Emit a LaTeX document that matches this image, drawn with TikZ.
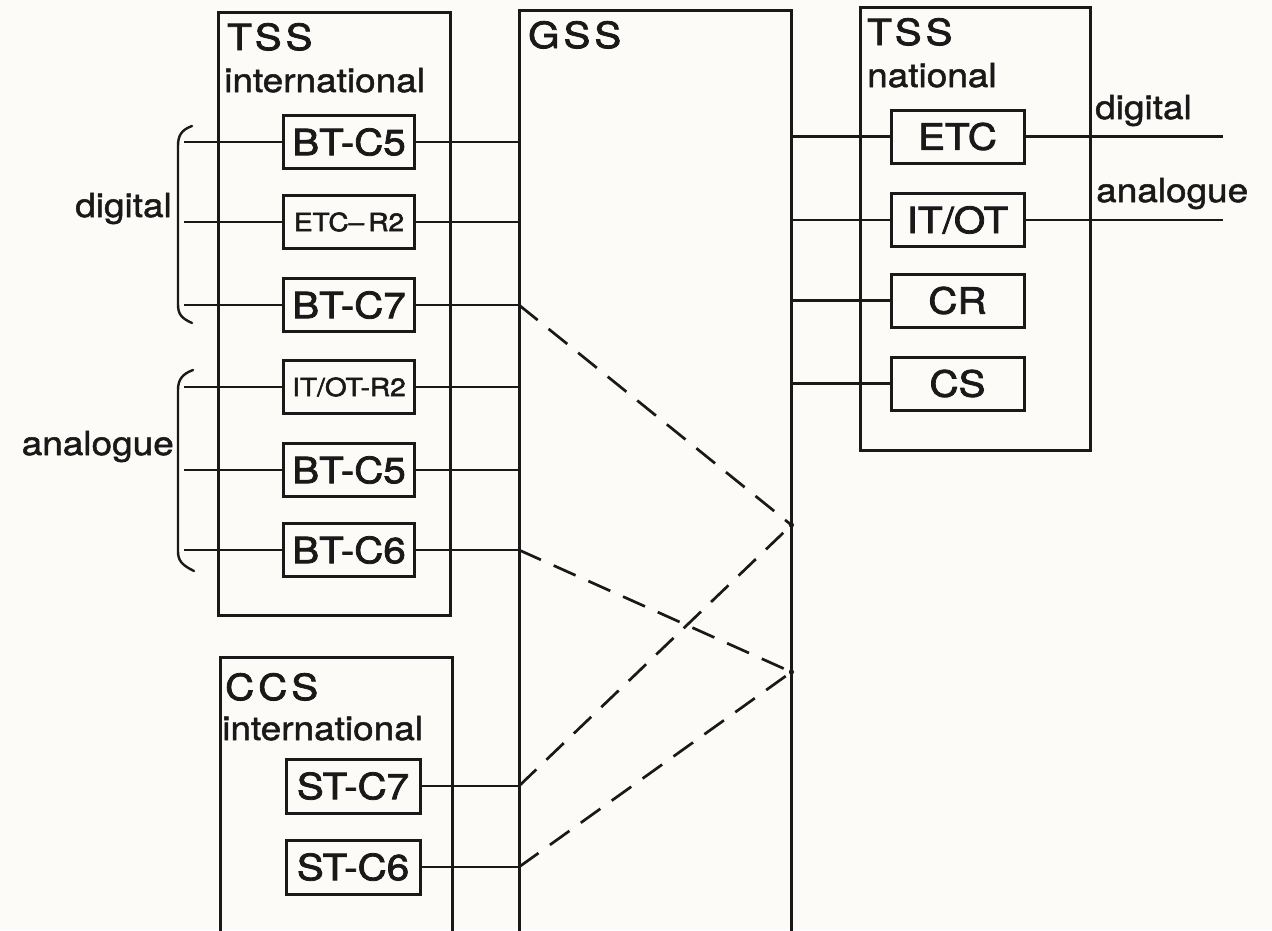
\documentclass[tikz,border=0pt]{standalone}
\usepackage{fontspec}
\setmainfont{TeX Gyre Heros}[FakeStretch=1.12,FakeBold=1.5]
\newfontfamily\boxfont{TeX Gyre Heros}[FakeStretch=1.12,FakeBold=2.2]
\newfontfamily\spacedfont{TeX Gyre Heros}[FakeStretch=1.12,LetterSpace=11,FakeBold=2.2]
\newcommand\setfs[1]{\fontsize{#1}{#1}\selectfont}
\definecolor{bgcol}{RGB}{252,251,248}
\definecolor{ink}{RGB}{25,25,25}
\begin{document}
\begin{tikzpicture}[x=1pt,y=-1pt,
  frame/.style={draw=ink, line width=3pt, inner sep=0pt},
  hidden/.style={draw=none, inner sep=0pt},
  unit/.style={draw=ink, line width=3pt, inner sep=0pt, minimum width=131, minimum height=53, font=\boxfont\setfs{36}, text=ink},
  smallunit/.style={unit, font=\boxfont\setfs{25}},
  title/.style={inner sep=0pt, anchor=base west, font=\spacedfont\setfs{36}, text=ink},
  label/.style={inner sep=0pt, font=\setfs{33}, text=ink},
  link/.style={draw=ink, line width=2.7pt},
  dlink/.style={draw=ink, line width=2.7pt, dash pattern=on 24pt off 14pt},
  brace/.style={draw=ink, line width=2.4pt, line cap=round}
]
\fill[bgcol] (0,0) rectangle (1272,930);
\useasboundingbox (0,0) rectangle (1272,930);

% containers
\node[frame, minimum width=232, minimum height=603] (tssI) at (334,313.5) {};
\node[frame, minimum width=230, minimum height=443] (tssN) at (975,228.5) {};
\node[hidden, minimum width=272, minimum height=930, anchor=north west] (gss) at (519,10) {};
\node[hidden, minimum width=232, minimum height=290, anchor=north west] (ccs) at (220,657) {};
\draw[draw=ink, line width=3pt] (gss.south west) |- (gss.north east) -- (gss.south east);
\draw[draw=ink, line width=3pt] (ccs.south west) |- (ccs.north east) -- (ccs.south east);

% titles
\node[title] (t1) at (227,50) {TSS};
\node[label, anchor=base west] (t1b) at (224,92) {international};
\node[title] (t2) at (528,48) {GSS};
\node[title] (t3) at (867,45) {TSS};
\node[label, anchor=base west] (t3b) at (867,87) {national};
\node[title] (t4) at (225,700) {CCS};
\node[label, anchor=base west] (t4b) at (222,740) {international};

% left units
\node[unit] (a1) at (349,142) {BT-C5};
\node[smallunit] (a2) at (349,222) {ETC–\,R2};
\node[unit] (a3) at (349,305) {BT-C7};
\node[smallunit] (a4) at (349,387) {IT/OT-R2};
\node[unit] (a5) at (349,470) {BT-C5};
\node[unit] (a6) at (349,550) {BT-C6};
\node[unit, minimum width=134, minimum height=54] (s1) at (353,786) {ST-C7};
\node[unit, minimum width=134, minimum height=54] (s2) at (353,867) {ST-C6};

% right units
\node[unit, minimum width=133] (n1) at (957.5,136.5) {ETC};
\node[unit, minimum width=133] (n2) at (957.5,220) {IT/OT};
\node[unit, minimum width=133] (n3) at (957.5,300.5) {CR};
\node[unit, minimum width=133] (n4) at (957.5,383.5) {CS};

% left inputs and links into GSS
\foreach \n in {a1,a2,a3,a4,a5,a6}{
  \coordinate (\n in) at ([xshift=-98pt]\n.west);
  \draw[link] (\n in) -- (\n.west);
  \draw[link] (\n.east) -- (\n.east -| gss.west);
}
\foreach \n in {s1,s2}{
  \draw[link] (\n.east) -- (\n.east -| gss.west);
}
\foreach \n in {n1,n2,n3,n4}{
  \draw[link] (\n.west -| gss.east) -- (\n.west);
}
\coordinate (o1) at (1223,135);
\coordinate (o2) at (1223,217);
\draw[link] (n1.east) -- (n1.east -| o1);
\draw[link] (n2.east) -- (n2.east -| o2);
\node[label, anchor=base west] (ld) at (1095,119) {digital};
\node[label, anchor=base west] (la) at (1096,202) {analogue};

% braces
\draw[brace] (192,126) .. controls (181,130) and (178,136) .. (178,146) -- (178,304) .. controls (178,314) and (181,318) .. (192,323);
\draw[brace] (193,370) .. controls (182,374) and (178,380) .. (178,390) -- (178,551) .. controls (178,561) and (182,565) .. (194,571);
\node[label, anchor=base east] (bd) at (172,217) {digital};
\node[label, anchor=base east] (ba) at (174,455) {analogue};

% junctions on GSS
\coordinate (j1) at (gss.east |- 0,525);
\coordinate (j2) at (gss.east |- 0,672);
\fill[ink] (j1) circle (2.6pt);
\fill[ink] (j2) circle (2.6pt);
\draw[dlink] (a3.east -| gss.west) -- (j1);
\draw[dlink] (s1.east -| gss.west) -- (j1);
\draw[dlink] (a6.east -| gss.west) -- (j2);
\draw[dlink] (s2.east -| gss.west) -- (j2);
\end{tikzpicture}
\end{document}
